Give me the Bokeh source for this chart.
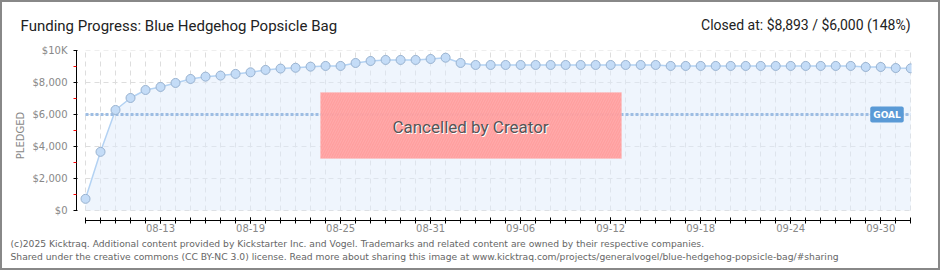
import pandas as pd
from bokeh.plotting import figure
from bokeh.layouts import column, row
from bokeh.models import ColumnDataSource, FixedTicker, Label, BoxAnnotation, Range1d
from bokeh.core.properties import value
from bokeh.embed import file_html
from bokeh.resources import INLINE

# ---- data ----
dates = [d.strftime("%m-%d") for d in pd.date_range("2025-08-08", "2025-10-02")]
pledged = [730, 3670, 6290, 7040, 7540, 7730, 7980, 8230, 8375, 8440,
           8545, 8645, 8795, 8880, 8930, 9000, 9045, 9045, 9230, 9355,
           9420, 9420, 9420, 9480, 9560, 9230, 9105, 9105, 9105, 9105,
           9105, 9105, 9105, 9105, 9105, 9105, 9105, 9105, 9105, 9045,
           9045, 9045, 9045, 9045, 9045, 9045, 9045, 9045, 9045, 9045,
           9045, 9045, 8980, 8980, 8915, 8893]
goal = 6000
x_tick_labels = ["08-13", "08-19", "08-25", "08-31", "09-06", "09-12", "09-18", "09-24", "09-30"]
y_ticks = [0, 2000, 4000, 6000, 8000, 10000]
y_tick_labels = ["$0", "$2,000", "$4,000", "$6,000", "$8,000", "$10K"]
y_minor = [1000, 3000, 5000, 7000, 9000]

title_text = "Funding Progress: Blue Hedgehog Popsicle Bag"
closed_text = "Closed at:  $8,893 /  $6,000 (148%)"
footer1 = "(c)2025 Kicktraq. Additional content provided by Kickstarter Inc. and Vogel. Trademarks and related content are owned by their respective companies."
footer2 = "Shared under the creative commons (CC BY-NC 3.0) license. Read more about sharing this image at www.kicktraq.com/projects/generalvogel/blue-hedgehog-popsicle-bag/#sharing"

W = 936  # inner width (outer 2px border added by the column)


def text_fig(h):
    f = figure(width=W, height=h, output_backend="svg", toolbar_location=None,
               x_range=Range1d(0, W), y_range=Range1d(h, 0),
               x_axis_location=None, y_axis_location=None, min_border=0)
    f.grid.visible = False
    f.outline_line_color = None
    f.background_fill_color = "white"
    f.border_fill_color = "white"
    return f


# ---- header ----
head = text_fig(42)
head.text(x=[18], y=[23], text=[title_text], text_align="left", text_baseline="middle",
          text_color="#222222", text_font=value("Roboto"), text_font_size="15px")
head.text(x=[915], y=[22], text=[closed_text], text_align="right", text_baseline="middle",
          text_color="#222222", text_font=value("Roboto"), text_font_size="14px")

# ---- main chart ----
xs = list(range(len(dates)))
src = ColumnDataSource(dict(x=xs, y=pledged, base=[0] * len(xs)))

p = figure(width=W, height=192, output_backend="svg", toolbar_location=None,
           x_range=(-0.6, xs[-1] + 0.05), y_range=(-625, 10010),
           min_border_left=74, min_border_right=27, min_border_top=6, min_border_bottom=16)
p.outline_line_color = None
p.background_fill_color = "white"
p.border_fill_color = "white"

p.xgrid.ticker = FixedTicker(ticks=xs)
p.ygrid.ticker = FixedTicker(ticks=y_ticks)
p.xgrid.cross_bounds = (y_ticks[0], y_ticks[-1])
p.ygrid.cross_bounds = (xs[0], xs[-1])
for g in (p.xgrid, p.ygrid):
    g.grid_line_color = "#dddddd"
    g.grid_line_dash = "5 4"
    g.grid_line_width = 1

p.varea(x="x", y1="base", y2="y", source=src, fill_color="#dfecfb", fill_alpha=0.5)
p.line(x="x", y="y", source=src, line_color="#b3d2f3", line_width=1.5)
p.line(x=[xs[0], xs[-1]], y=[goal, goal], line_color="#9dbde3", line_width=3, line_dash="3 2")
p.scatter(x="x", y="y", source=src, size=9, fill_color="#c4dcf7", line_color="#98b2d0", line_width=1)

lab_pos = [dates.index(t) for t in x_tick_labels]
xa = p.xaxis[0]
xa.ticker = FixedTicker(ticks=lab_pos, minor_ticks=xs)
xa.major_label_overrides = {i: dates[i] for i in lab_pos}
xa.bounds = (xs[0], xs[-1])
xa.axis_line_color = "black"
xa.major_tick_line_color = "black"
xa.minor_tick_line_color = "black"
xa.major_tick_in = 3
xa.major_tick_out = 3
xa.minor_tick_in = 3
xa.minor_tick_out = 3
xa.major_label_standoff = 0
xa.major_label_text_font = "DejaVu Sans"
xa.major_label_text_font_size = "10px"
xa.major_label_text_color = "#888888"

ya = p.yaxis[0]
ya.ticker = FixedTicker(ticks=y_ticks, minor_ticks=y_minor)
ya.major_label_overrides = dict(zip(y_ticks, y_tick_labels))
ya.bounds = (y_ticks[0], y_ticks[-1])
ya.axis_line_color = "black"
ya.major_tick_line_color = "black"
ya.minor_tick_line_color = "red"
ya.major_tick_in = 1
ya.major_tick_out = 3
ya.minor_tick_in = 0
ya.minor_tick_out = 3
ya.major_label_standoff = 6
ya.major_label_text_font = "DejaVu Sans"
ya.major_label_text_font_size = "10px"
ya.major_label_text_color = "#888888"
ya.axis_label = "PLEDGED"
ya.axis_label_text_font = "DejaVu Sans"
ya.axis_label_text_font_size = "10px"
ya.axis_label_text_font_style = "normal"
ya.axis_label_text_color = "#888888"
ya.axis_label_standoff = 4

p.add_layout(Label(x=xs[-1], y=goal, text="GOAL", text_align="right", text_baseline="middle",
                   x_offset=-7, text_color="white", text_font="DejaVu Sans", text_font_size="9px",
                   text_font_style="bold", background_fill_color="#5a9ad6", padding=3, border_radius=2))

p.add_layout(BoxAnnotation(left=318, right=619, top=48, bottom=114,
                           left_units="canvas", right_units="canvas", top_units="canvas", bottom_units="canvas",
                           fill_color="#ff9a9a", fill_alpha=0.95, hatch_pattern="/", hatch_color="#ffb4b4",
                           hatch_scale=5, hatch_alpha=0.6, line_color="#f7c2c2", line_width=1))
p.add_layout(Label(x=469, y=83, x_units="canvas", y_units="canvas", text="Cancelled by Creator",
                   text_align="center", text_baseline="middle", text_color="white",
                   text_font="Roboto", text_font_size="17px"))
p.add_layout(Label(x=468, y=82, x_units="canvas", y_units="canvas", text="Cancelled by Creator",
                   text_align="center", text_baseline="middle", text_color="#555555",
                   text_font="Roboto", text_font_size="17px"))

# ---- footer ----
foot = text_fig(32)
foot.text(x=[8, 8], y=[7, 20], text=[footer1, footer2], text_align="left", text_baseline="middle",
          text_color="#666666", text_font=value("DejaVu Sans"), text_font_size="9.2px")

layout = column(row(head), p, row(foot), spacing=0,
                styles={"border": "2px solid #888888"})

open("out.html", "w").write(file_html(layout, INLINE))
